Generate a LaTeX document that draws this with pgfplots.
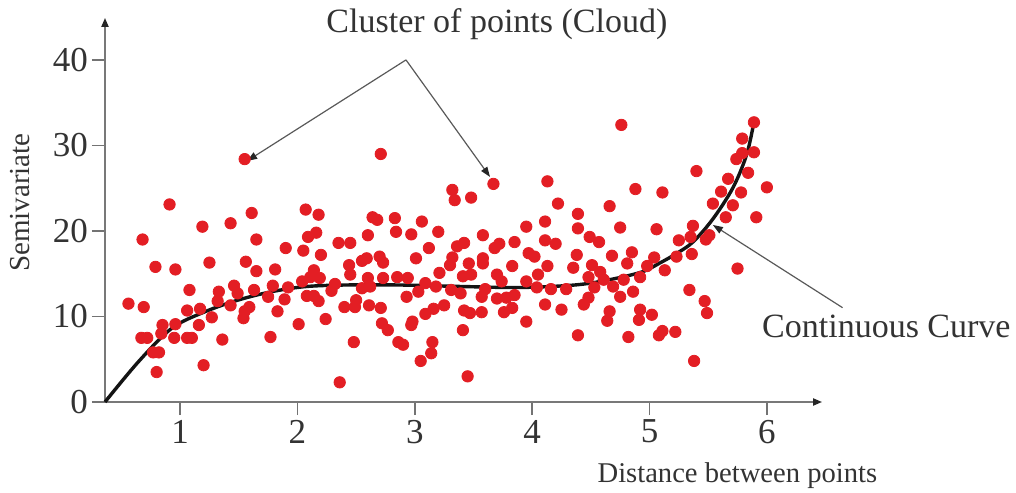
\documentclass[border=0pt]{standalone}
\usepackage{fontspec}
\setmainfont{Liberation Serif}
\usepackage{pgfplots}
\usepackage{pgfplotstable}
\pgfplotsset{compat=1.18}
\usetikzlibrary{arrows.meta}
\definecolor{dotred}{RGB}{227,30,36}
\definecolor{txt}{RGB}{51,51,51}
\definecolor{axgray}{RGB}{120,120,120}

\pgfplotstableread{
x y
1.55 28.4
0.91 23.1
1.61 22.1
2.07 22.5
2.18 21.9
1.19 20.5
1.43 20.9
0.68 19.0
1.65 19.0
2.16 19.8
2.09 19.3
2.35 18.6
1.90 18.0
2.05 17.7
2.20 17.2
1.25 16.3
1.56 16.4
0.79 15.8
0.96 15.5
1.65 15.3
1.81 15.5
2.14 15.4
0.56 11.5
0.69 11.1
1.08 13.1
1.33 12.9
1.46 13.6
1.49 12.7
1.63 13.1
1.79 13.6
1.75 12.3
1.92 13.4
1.89 12.0
2.04 14.1
2.11 14.6
2.19 14.5
2.08 12.4
2.14 12.4
2.18 11.8
2.32 13.8
2.29 13.0
2.40 11.1
1.32 11.8
1.43 11.3
1.59 11.1
1.55 10.6
1.54 9.8
1.83 10.6
1.06 10.7
1.17 10.9
1.27 9.9
1.16 9.0
0.96 9.1
0.85 9.0
0.84 8.0
0.67 7.5
0.72 7.5
0.95 7.5
1.06 7.5
1.10 7.5
1.36 7.3
1.77 7.6
2.01 9.1
2.24 9.7
0.77 5.8
0.82 5.8
0.80 3.5
1.20 4.3
2.36 2.3
2.71 29.0
3.67 25.5
4.13 25.8
3.32 24.8
3.34 23.6
3.48 23.9
4.22 23.2
4.39 22.0
2.64 21.6
2.68 21.3
2.83 21.5
3.06 21.1
4.11 21.1
3.95 20.5
4.39 20.3
2.84 19.9
2.97 19.6
3.20 19.9
2.60 19.5
3.58 19.5
2.45 18.6
4.11 18.9
4.20 18.5
3.85 18.7
3.12 18.0
3.36 18.2
3.42 18.6
3.68 18.0
3.72 18.5
4.38 17.2
3.97 17.4
4.02 17.0
2.70 17.0
2.73 16.3
2.59 16.8
2.55 16.5
3.01 16.8
3.32 16.9
3.58 16.8
2.44 16.0
3.30 16.0
3.46 16.2
3.58 16.2
3.83 15.9
4.13 15.9
2.45 14.9
2.60 14.5
2.62 13.5
2.55 13.3
2.73 14.5
2.85 14.6
2.94 14.5
2.93 12.3
3.03 12.9
3.09 13.9
3.18 13.5
3.21 15.1
3.41 14.7
3.48 14.9
3.31 13.1
3.39 12.7
3.57 12.3
3.60 13.2
3.70 14.9
3.74 14.1
3.70 12.1
3.78 12.2
3.85 12.5
3.95 14.1
4.05 14.9
4.04 13.4
4.16 13.2
4.29 13.2
4.35 15.7
2.50 11.9
2.49 11.1
2.61 11.3
2.71 11.0
2.72 9.2
2.77 8.4
2.98 9.4
2.97 9.0
3.09 10.3
3.16 10.9
3.25 11.3
3.42 10.7
3.47 10.4
3.57 10.5
3.41 8.4
3.83 11.0
3.76 10.5
3.95 9.4
4.11 11.4
4.25 10.8
2.48 7.0
2.86 7.0
2.90 6.7
3.15 7.0
3.14 5.7
3.05 4.8
3.45 3.0
4.39 7.8
4.76 32.4
5.89 32.7
5.79 30.8
5.89 29.2
5.79 29.1
5.74 28.4
5.40 27.0
5.84 26.8
5.67 26.1
6.00 25.1
4.88 24.9
5.11 24.5
5.61 24.6
5.78 24.5
5.54 23.2
5.71 23.0
4.66 22.9
5.65 21.6
5.91 21.6
4.75 20.4
5.06 20.2
5.37 20.6
4.49 19.3
4.57 18.7
5.25 18.9
5.35 19.3
5.51 19.5
5.48 19.0
4.68 17.1
4.85 17.5
5.04 16.9
5.23 17.0
5.36 17.3
4.51 16.0
4.81 16.2
4.98 15.9
5.13 15.4
5.75 15.6
4.48 14.6
4.58 15.2
4.61 14.3
4.53 13.4
4.69 13.5
4.78 14.3
4.92 14.6
4.48 12.2
4.44 11.4
4.75 12.3
4.86 12.9
4.66 10.6
4.64 9.5
4.92 10.8
4.91 9.6
5.02 10.2
5.34 13.1
5.47 11.8
5.49 10.4
4.82 7.6
5.11 8.3
5.08 7.8
5.22 8.2
5.38 4.8
}\cloud

\begin{document}
\begin{tikzpicture}
\useasboundingbox (-52.5pt,-45pt) rectangle (455.5pt,201pt);
\begin{axis}[
  at={(0pt,0pt)}, anchor=south west,
  scale only axis, width=358.5pt, height=192pt,
  xmin=0.36, xmax=6.47, ymin=0, ymax=44.9,
  axis lines=left,
  axis line style={draw=axgray, line width=0.8pt, -{Triangle[length=4.5pt,width=3.6pt,color=black!85]}},
  xtick={1,2,3,4,5,6}, ytick={0,10,20,30,40},
  tick align=outside, major tick length=6.5pt,
  every tick/.style={draw=black!55, line width=0.8pt},
  ticklabel style={font=\fontsize{17.5}{20}\selectfont, text=txt},
  yticklabel style={xshift=1.5pt},
  xticklabel style={yshift=1pt},
  /pgf/number format/assume math mode=true,
  clip=false,
]
\addplot[only marks, mark=*, mark size=2.85pt, color=dotred, mark options={fill=dotred, draw=none}] table {\cloud};
\addplot[black!92, line width=1.7pt, smooth, tension=0.55, no markers] coordinates {
(0.36,0) (0.645,4.71) (0.929,8.62) (1.213,10.56) (1.497,11.93) (1.781,12.90)
(2.065,13.49) (2.406,13.68) (2.874,13.68) (3.385,13.51) (3.896,13.39)
(4.361,13.68) (4.648,14.27) (4.933,15.20) (5.089,16.26) (5.231,17.37)
(5.370,18.71) (5.540,21.40) (5.710,25.03) (5.827,28.89) (5.889,32.67)};

\draw[draw=black!65, line width=0.6pt, -{Triangle[length=5pt,width=3.6pt,color=black!85]}] (axis cs:2.925,40.0) -- (axis cs:1.571,28.19);
\draw[draw=black!65, line width=0.6pt, -{Triangle[length=5pt,width=3.6pt,color=black!85]}] (axis cs:2.925,40.0) -- (axis cs:3.641,26.32);
\draw[draw=black!65, line width=0.6pt, -{Triangle[length=5pt,width=3.6pt,color=black!85]}] (axis cs:6.645,11.03) -- (axis cs:5.540,20.70);

\node[font=\fontsize{17}{20}\selectfont, text=txt] at (axis cs:3.70,44.2) {Cluster of points (Cloud)};
\node[font=\fontsize{17}{20}\selectfont, text=txt, anchor=base west, inner sep=0pt] at (axis cs:5.957,7.60) {Continuous Curve};
\node[font=\fontsize{14.5}{17}\selectfont, text=txt, rotate=90] at (axis cs:-0.363,23.3) {Semivariate};
\node[font=\fontsize{14.3}{17}\selectfont, text=txt, anchor=base] at (axis cs:5.749,-9.47) {Distance between points};
\end{axis}
\end{tikzpicture}
\end{document}
